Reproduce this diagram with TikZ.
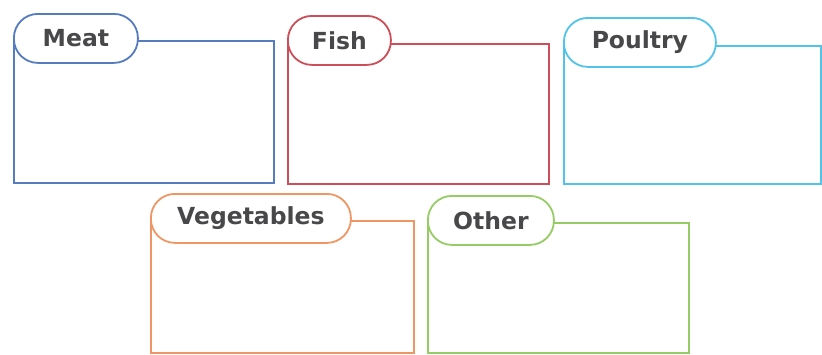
\documentclass[tikz,border=0pt]{standalone}
\usepackage{fontspec}
\setmainfont{DejaVu Sans}
\definecolor{meatblue}{RGB}{84,124,190}
\definecolor{fishred}{RGB}{205,78,88}
\definecolor{poultrycyan}{RGB}{82,196,234}
\definecolor{vegorange}{RGB}{240,150,100}
\definecolor{othergreen}{RGB}{150,204,100}
\definecolor{labelgray}{RGB}{72,72,74}
\begin{document}
\begin{tikzpicture}[x=1pt,y=-1pt,line width=1.8pt,
  catbox/.style={draw=#1,rectangle,anchor=north west,inner sep=0pt},
  cattab/.style={draw=#1,fill=white,rounded corners=24pt,anchor=north west,
    minimum height=49pt,inner sep=0pt,font=\bfseries\fontsize{23.5}{24}\selectfont,text=labelgray}]
\useasboundingbox (0,0) rectangle (822,354);
% top row
\node[catbox=meatblue,minimum width=260pt,minimum height=142pt] (meat) at (13,40) {};
\node[cattab=meatblue,minimum width=124pt] (meattab) at (13,13) {Meat};
\node[catbox=fishred,minimum width=261pt,minimum height=140pt] (fish) at (287,43) {};
\node[cattab=fishred,minimum width=103pt] (fishtab) at (287,15) {Fish};
\node[catbox=poultrycyan,minimum width=257pt,minimum height=138pt] (poultry) at (563,45) {};
\node[cattab=poultrycyan,minimum width=152pt] (poultrytab) at (563,17) {Poultry};
% bottom row
\node[catbox=vegorange,minimum width=263pt,minimum height=132pt] (veg) at (150,220) {};
\node[cattab=vegorange,minimum width=200pt] (vegtab) at (150,193) {Vegetables};
\node[catbox=othergreen,minimum width=261pt,minimum height=130pt] (other) at (427,222) {};
\node[cattab=othergreen,minimum width=126pt] (othertab) at (427,195) {Other};
\end{tikzpicture}
\end{document}
